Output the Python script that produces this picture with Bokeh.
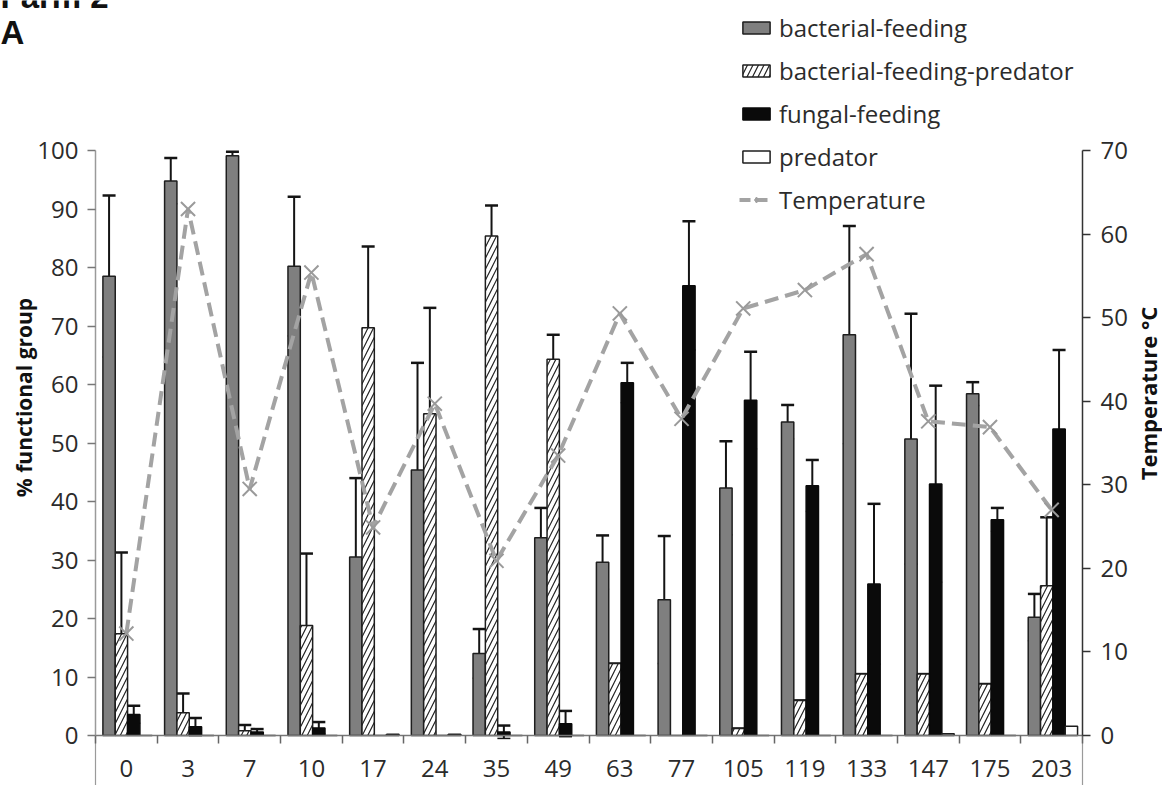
import numpy as np
from math import pi
from bokeh.plotting import figure
from bokeh.models import (Range1d, LinearAxis, FixedTicker, ColumnDataSource, Whisker,
                          TeeHead, Legend, LegendItem, Label)
from bokeh.embed import file_html
from bokeh.resources import INLINE

# ---------------- data ----------------
days = ["0", "3", "7", "10", "17", "24", "35", "49", "63", "77", "105", "119", "133", "147", "175", "203"]

bacterial = [78.5, 94.8, 99.1, 80.2, 30.5, 45.4, 14.0, 33.8, 29.6, 23.2, 42.3, 53.6, 68.5, 50.7, 58.4, 20.2]
bacterial_err = [13.8, 3.9, 0.7, 11.9, 13.5, 18.3, 4.2, 5.1, 4.6, 10.9, 8.0, 2.9, 18.6, 21.4, 2.0, 4.0]

bfp = [17.4, 3.9, 0.8, 18.8, 69.7, 55.0, 85.4, 64.3, 12.3, 0.0, 1.2, 6.0, 10.5, 10.5, 8.8, 25.6]
bfp_err_lo = [13.9, 3.3, 0.0, 12.3, 13.9, 18.1, 5.2, 4.2, 4.0, 0.0, 0.8, 3.6, 4.8, 4.4, 4.2, 11.6]
bfp_err_hi = [13.9, 3.3, 1.0, 12.3, 13.9, 18.1, 5.2, 4.2, 0.0, 0.0, 0.0, 0.0, 0.0, 0.0, 0.0, 11.7]

fungal = [3.6, 1.5, 0.6, 1.3, 0.0, 0.0, 0.6, 2.0, 60.3, 76.9, 57.3, 42.7, 25.9, 43.0, 36.9, 52.4]
fungal_err = [1.5, 1.5, 0.5, 1.0, 0.0, 0.0, 1.1, 2.2, 3.4, 11.0, 8.3, 4.4, 13.7, 16.8, 2.0, 13.5]

predator = [0.0, 0.0, 0.0, 0.0, 0.2, 0.2, 0.0, 0.0, 0.0, 0.0, 0.0, 0.0, 0.0, 0.3, 0.0, 1.6]

temperature = [12.2, 63.0, 29.5, 55.4, 24.9, 39.7, 20.9, 33.5, 50.5, 37.9, 51.1, 53.3, 57.6, 37.6, 36.9, 27.0]

left_ticks = list(range(0, 101, 10))
right_ticks = list(range(0, 71, 10))
LEFT_MAX, RIGHT_MAX = 100, 70

# ---------------- layout (pixels on the canvas) ----------------
W, H = 1162, 785               # canvas size
AX_L, AX_R = 95, 1082          # x of left / right axes on canvas
AX_T, AX_B = 150, 735          # y of top (100 / 70) and bottom (0) on canvas
n = len(days)
sx = (AX_R - AX_L) / n
x0 = -AX_L / sx
x1 = n + (W - AX_R) / sx
sy = (AX_B - AX_T) / LEFT_MAX
y1 = LEFT_MAX + AX_T / sy
y0 = -(H - AX_B) / sy
st = (AX_B - AX_T) / RIGHT_MAX
t1 = RIGHT_MAX + AX_T / st
t0 = -(H - AX_B) / st

FONT = "Open Sans"
TXT = "#2b2b2b"
centers = np.arange(n) + 0.5
offsets = [-0.28, -0.08, 0.12, 0.32]
bw = 0.2

p = figure(width=W, height=H, min_border=0,
           x_range=Range1d(x0, x1), y_range=Range1d(y0, y1),
           x_axis_location=None, y_axis_location=None,
           output_backend="svg", toolbar_location=None, tools="")
p.outline_line_color = None
p.xgrid.grid_line_color = None
p.ygrid.grid_line_color = None
p.background_fill_color = "white"
p.border_fill_color = "white"
p.extra_y_ranges = {"temp": Range1d(t0, t1)}

# left axis
ya = LinearAxis(fixed_location=0, bounds=(0, LEFT_MAX),
                ticker=FixedTicker(ticks=left_ticks, minor_ticks=[]))
ya.axis_line_color = "#9a9a9a"
ya.axis_line_width = 1.5
ya.major_tick_line_color = "#777777"
ya.major_tick_line_width = 1.5
ya.major_tick_out = 8
ya.major_tick_in = 0
ya.major_label_standoff = 9
ya.major_label_text_font = FONT
ya.major_label_text_font_size = "24px"
ya.major_label_text_color = TXT
p.add_layout(ya, "left")

# right axis
ra = LinearAxis(y_range_name="temp", fixed_location=n, bounds=(0, RIGHT_MAX),
                ticker=FixedTicker(ticks=right_ticks, minor_ticks=[]))
ra.axis_line_color = "#333333"
ra.axis_line_width = 1.5
ra.major_tick_line_color = "#333333"
ra.major_tick_line_width = 1.5
ra.major_tick_out = 8
ra.major_tick_in = 0
ra.major_label_standoff = 10
ra.major_label_text_font = FONT
ra.major_label_text_font_size = "24px"
ra.major_label_text_color = TXT
p.add_layout(ra, "right")

# bottom axis
xa = LinearAxis(fixed_location=0, bounds=(0, n),
                ticker=FixedTicker(ticks=list(centers), minor_ticks=list(range(n + 1))))
xa.major_label_overrides = {float(c): d for c, d in zip(centers, days)}
xa.major_tick_line_color = None
xa.major_tick_out = 0
xa.major_tick_in = 0
xa.minor_tick_line_color = "#666666"
xa.minor_tick_line_width = 1.5
xa.minor_tick_out = 8
xa.minor_tick_in = 0
xa.axis_line_color = "#777777"
xa.axis_line_width = 1.5
xa.major_label_standoff = 16
xa.major_label_text_font = FONT
xa.major_label_text_font_size = "24px"
xa.major_label_text_color = TXT
p.add_layout(xa, "below")

# category-frame lines descending from both ends of the category axis
p.segment(x0=[0, n], y0=[0, 0], x1=[0, n], y1=[y0, y0], line_color="#9a9a9a", line_width=1.2)

# ---------------- bars ----------------
r_bact = p.vbar(x=centers + offsets[0], top=bacterial, width=bw,
                fill_color="#7f7f7f", line_color="#1e1e1e", line_width=1.5)
r_bfp = p.vbar(x=centers + offsets[1], top=bfp, width=bw,
               fill_color="white", line_color="#1e1e1e", line_width=1.5,
               hatch_pattern="/", hatch_color="#222222", hatch_scale=11, hatch_weight=1.2)
r_fung = p.vbar(x=centers + offsets[2], top=fungal, width=bw,
                fill_color="#0a0a0a", line_color="#0a0a0a", line_width=1.5)
r_pred = p.vbar(x=centers + offsets[3], top=predator, width=bw,
                fill_color="white", line_color="#1e1e1e", line_width=1.5)


def add_err(xs, vals, lo, hi):
    xs = np.asarray(xs); vals = np.asarray(vals); lo = np.asarray(lo); hi = np.asarray(hi)
    m = (lo + hi) > 0
    src = ColumnDataSource(dict(x=xs[m], lower=(vals - lo)[m], upper=(vals + hi)[m]))
    w = Whisker(source=src, base="x", lower="lower", upper="upper", dimension="height",
                line_color="#141414", line_width=2,
                upper_head=TeeHead(size=13, line_color="#141414", line_width=2.5),
                lower_head=TeeHead(size=13, line_color="#141414", line_width=1.5))
    p.add_layout(w)


add_err(centers + offsets[0], bacterial, bacterial_err, bacterial_err)
add_err(centers + offsets[1], bfp, bfp_err_lo, bfp_err_hi)
add_err(centers + offsets[2], fungal, fungal_err, fungal_err)

# ---------------- temperature ----------------
p.line(x=centers, y=temperature, y_range_name="temp", line_color="#a3a3a3",
       line_width=4, line_dash="14 7")
p.scatter(x=centers, y=temperature, y_range_name="temp", marker="x", size=20,
          line_color="#9a9a9a", line_width=2)

# legend proxies for temperature (diamond marker as in the original legend), off-screen point
proxy = ColumnDataSource(dict(x=[x0 - 50], y=[y0 - 50]))
leg_line = p.line(x="x", y="y", source=proxy, line_color="#a3a3a3", line_width=4, line_dash="11 6")
leg_dia = p.scatter(x="x", y="y", source=proxy, marker="diamond", size=17,
                    fill_color="#a0a0a0", line_color="#a0a0a0")

legend = Legend(items=[
    LegendItem(label="bacterial-feeding", renderers=[r_bact]),
    LegendItem(label="bacterial-feeding-predator", renderers=[r_bfp]),
    LegendItem(label="fungal-feeding", renderers=[r_fung]),
    LegendItem(label="predator", renderers=[r_pred]),
    LegendItem(label="Temperature", renderers=[leg_line, leg_dia]),
], location=(739, H - 216), orientation="vertical")
legend.background_fill_alpha = 0
legend.border_line_color = None
legend.padding = 0
legend.margin = 0
legend.spacing = 10
legend.glyph_width = 34
legend.glyph_height = 15
legend.label_standoff = 6
legend.label_text_font = FONT
legend.label_text_font_size = "24px"
legend.label_text_color = TXT
p.add_layout(legend)

# ---------------- texts ----------------
p.add_layout(Label(x=0, y=H + 4, x_units="screen", y_units="screen", text="Farm 2",
                   text_font="Liberation Sans", text_font_style="bold", text_font_size="33px",
                   text_color="#111111", text_baseline="alphabetic"))
p.add_layout(Label(x=0, y=H - 32, x_units="screen", y_units="screen", text="A",
                   text_font="Liberation Sans", text_font_style="bold", text_font_size="33px",
                   text_color="#111111", text_baseline="alphabetic"))
p.add_layout(Label(x=23, y=H - 397, x_units="screen", y_units="screen",
                   text="% functional group", angle=pi / 2, text_align="center",
                   text_baseline="middle", text_font=FONT, text_font_style="bold",
                   text_font_size="21px", text_color="#111111"))
p.add_layout(Label(x=1147, y=H - 393, x_units="screen", y_units="screen",
                   text="Temperature °C", angle=pi / 2, text_align="center",
                   text_baseline="middle", text_font=FONT, text_font_style="bold",
                   text_font_size="22px", text_color="#111111"))

open("out.html", "w").write(file_html(p, INLINE))
